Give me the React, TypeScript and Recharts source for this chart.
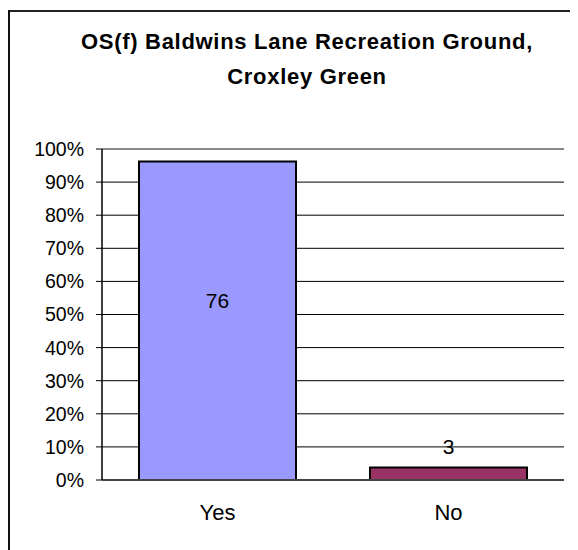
import { BarChart, Bar, XAxis, YAxis, CartesianGrid, Cell, LabelList, ReferenceLine } from 'recharts';

const titleLines = ['OS(f) Baldwins Lane Recreation Ground,', 'Croxley Green'];
const categories = ['Yes', 'No'];
const counts = [76, 3];
const barColors = ['#9999FF', '#993366'];
const yTicks = [0, 10, 20, 30, 40, 50, 60, 70, 80, 90, 100];

const total = counts.reduce((a, b) => a + b, 0);
const data = categories.map((name, i) => ({ name, count: counts[i], pct: (counts[i] / total) * 100 }));

const font = '"Liberation Sans", Arial, sans-serif';

function ValueLabel(props: any) {
  const { x, y, width, height, value } = props;
  const cx = x + width / 2;
  // tall bar: label inside, short bar: label above it
  const cy = height > 60 ? y + height / 2 - 20 : y - 21;
  return (
    <text x={cx} y={cy} dy="0.35em" textAnchor="middle" fontSize={21} fontFamily={font} fill="#000">
      {value}
    </text>
  );
}

export default function App() {
  return (
    <div style={{ position: 'relative', width: 578, height: 550, marginTop: -8, marginLeft: -8, overflow: 'hidden', background: '#fff' }}>
      <svg width={578} height={110} style={{ position: 'absolute', left: 0, top: 0 }}>
        {titleLines.map((t, i) => (
          <text key={t} x={307} y={49 + i * 35} textAnchor="middle" fontFamily={font} fontWeight="bold" fontSize={22} letterSpacing={0.7} fill="#000">
            {t}
          </text>
        ))}
      </svg>
      <div style={{ position: 'absolute', left: 0, top: 0 }}>
        <BarChart width={578} height={550} data={data} margin={{ top: 149, right: 14, bottom: 0, left: 0 }} barCategoryGap={37}>
          <CartesianGrid horizontal vertical={false} stroke="#000" strokeWidth={1} />
          <XAxis
            dataKey="name"
            axisLine={{ stroke: '#444', strokeWidth: 2 }}
            tickLine={false}
            tickSize={0}
            tickMargin={24}
            tick={{ fill: '#000', fontSize: 22, fontFamily: font }}
            height={70}
          />
          <YAxis
            width={102}
            domain={[0, 100]}
            ticks={yTicks}
            interval={0}
            tickFormatter={(v) => `${v}%`}
            axisLine={{ stroke: '#000', strokeWidth: 1.5 }}
            tickLine={{ stroke: '#000' }}
            tickSize={6}
            tickMargin={12}
            tick={{ fill: '#000', fontSize: 19.5, fontFamily: font }}
          />
          <YAxis yAxisId="r" orientation="right" width={0} tick={false} tickLine={false} axisLine={{ stroke: '#888', strokeWidth: 2 }} />
          <ReferenceLine y={100} stroke="#888" strokeWidth={2} />
          <Bar dataKey="pct" stroke="#000" strokeWidth={2} isAnimationActive={false}>
            {data.map((d, i) => (
              <Cell key={d.name} fill={barColors[i]} />
            ))}
            <LabelList dataKey="count" content={ValueLabel} />
          </Bar>
        </BarChart>
      </div>
      <div style={{ position: 'absolute', left: 8, top: 10, width: 600, height: 2, background: '#222' }} />
      <div style={{ position: 'absolute', left: 8, top: 10, width: 2, height: 560, background: '#111' }} />
    </div>
  );
}
